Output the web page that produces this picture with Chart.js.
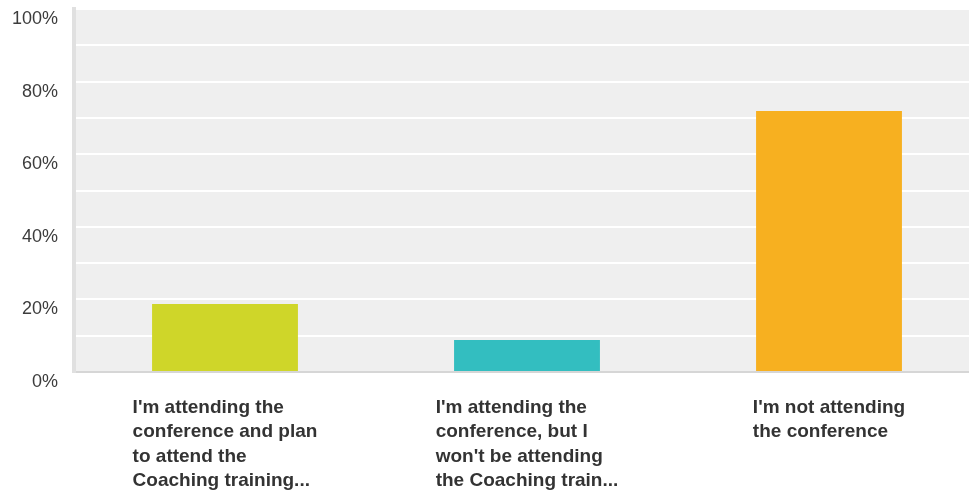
<!DOCTYPE html>
<html>
<head>
<meta charset="utf-8">
<script src="https://cdn.jsdelivr.net/npm/chart.js@4.4.1/dist/chart.umd.min.js"></script>
<style>
  html, body { margin: 0; padding: 0; background: #fff; overflow: hidden; }
  #wrap { position: relative; width: 980px; height: 495px; }
</style>
</head>
<body>
<div id="wrap"><canvas id="chart"></canvas></div>
<script>
// answer choices, already wrapped the way the survey export shows them
const categories = [
    ["I'm attending the", "conference and plan", "to attend the", "Coaching training..."],
    ["I'm attending the", "conference, but I", "won't be attending", "the Coaching train..."],
    ["I'm not attending", "the conference"]
];
const responses = [18.75, 8.8, 71.88];
const barColors = ['#cfd629', '#33bec0', '#f7b020'];
const tickValues = [0, 20, 40, 60, 80, 100];

const FONT = "'Liberation Sans', Arial, Helvetica, sans-serif";

// grey plot background behind the bars
const plotBg = {
    id: 'plotBg',
    beforeDraw(chart) {
        const a = chart.chartArea, c = chart.ctx;
        c.save();
        c.fillStyle = '#efefef';
        c.fillRect(a.left, a.top, a.right - a.left, a.bottom - a.top);
        c.restore();
    }
};

// category labels: block centred under the bar, lines left aligned
const xLabels = {
    id: 'xLabels',
    afterDraw(chart) {
        const c = chart.ctx, xs = chart.scales.x;
        c.save();
        c.font = 'bold 19px ' + FONT;
        c.fillStyle = '#333333';
        c.textAlign = 'left';
        c.textBaseline = 'alphabetic';
        chart.data.labels.forEach((lines, i) => {
            const cx = xs.getPixelForValue(i);
            const w = Math.max(...lines.map(l => c.measureText(l).width));
            const left = cx - w / 2;
            lines.forEach((l, j) => {
                c.fillText(l, left, chart.chartArea.bottom + 41 + j * 24.3);
            });
        });
        c.restore();
    }
};

new Chart(document.getElementById('chart'), {
    type: 'bar',
    data: {
        labels: categories,
        datasets: [{
            data: responses,
            backgroundColor: barColors,
            borderWidth: 0,
            categoryPercentage: 1,
            barPercentage: 0.483
        }]
    },
    options: {
        responsive: true,
        maintainAspectRatio: false,
        animation: false,
        events: [],
        layout: { autoPadding: false, padding: { top: 9, right: 0, left: 0, bottom: 0 } },
        plugins: { legend: { display: false }, tooltip: { enabled: false } },
        scales: {
            x: {
                grid: { display: false, drawTicks: false },
                border: { display: true, color: '#d6d6d6', width: 2 },
                ticks: { display: false },
                afterFit(s) {
                    s.height = 123;
                    s.paddingLeft = s.paddingRight = 0;
                }
            },
            y: {
                min: 0,
                max: 100,
                grid: { color: '#ffffff', lineWidth: 2, drawTicks: false },
                border: { display: true, color: '#e0e0e0', width: 4 },
                ticks: {
                    stepSize: 10,
                    padding: 16,
                    labelOffset: 10,
                    color: '#3c3c3c',
                    font: { family: FONT, size: 18 },
                    callback: v => tickValues.includes(v) ? v + '%' : ''
                },
                afterFit(s) {
                    s.width = 74;
                    s.paddingTop = s.paddingBottom = 0;
                }
            }
        }
    },
    plugins: [plotBg, xLabels]
});
</script>
</body>
</html>
